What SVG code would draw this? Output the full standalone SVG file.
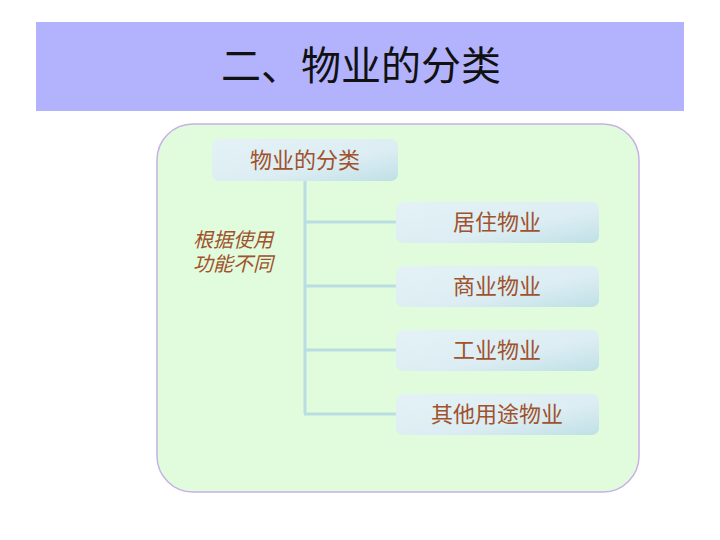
<svg xmlns="http://www.w3.org/2000/svg" width="720" height="540" viewBox="0 0 720 540">
<defs>
<linearGradient id="ng" x1="0" y1="0" x2="1" y2="1">
<stop offset="0" stop-color="#e4f2f6"/>
<stop offset="0.6" stop-color="#dcedf3"/>
<stop offset="1" stop-color="#bfe0e6"/>
</linearGradient>
<style>
.node{fill:url(#ng);}
.t{font-family:"Liberation Serif","Noto Sans CJK SC",serif;font-size:22px;fill:#a0522d;text-anchor:middle;}
.c{stroke:#b9dde2;stroke-width:3;fill:none;}
</style>
</defs>
<rect width="720" height="540" fill="#ffffff"/>
<g id="title">
<rect x="36" y="22" width="648" height="89" fill="#b3b3fd"/>
<text x="361" y="80" font-family="'Liberation Serif','Noto Sans CJK SC',serif" font-size="40" fill="#111111" text-anchor="middle">二、物业的分类</text>
</g>
<g id="panel">
<rect x="157" y="124" width="482" height="368" rx="36" fill="#e1fcdc" stroke="#c7b0e4" stroke-width="1.5"/>
</g>
<g id="connectors">
<path class="c" d="M305 181 V414 M304 222 H397 M304 286 H397 M304 350 H397 M304 414 H397"/>
</g>
<g id="root">
<rect class="node" x="212" y="139" width="186" height="42" rx="7"/>
<text class="t" x="305" y="168">物业的分类</text>
</g>
<g id="label">
<text font-family="'Liberation Serif','Noto Sans CJK SC',serif" font-size="20" font-style="italic" fill="#a0522d"><tspan x="193" y="247">根据使用</tspan><tspan x="193" y="271">功能不同</tspan></text>
</g>
<g id="n1">
<rect class="node" x="396" y="202" width="203" height="41" rx="7"/>
<text class="t" x="497" y="230">居住物业</text>
</g>
<g id="n2">
<rect class="node" x="396" y="266" width="203" height="41" rx="7"/>
<text class="t" x="497" y="294">商业物业</text>
</g>
<g id="n3">
<rect class="node" x="396" y="330" width="203" height="41" rx="7"/>
<text class="t" x="497" y="358">工业物业</text>
</g>
<g id="n4">
<rect class="node" x="396" y="394" width="203" height="41" rx="7"/>
<text class="t" x="497" y="422">其他用途物业</text>
</g>
</svg>
